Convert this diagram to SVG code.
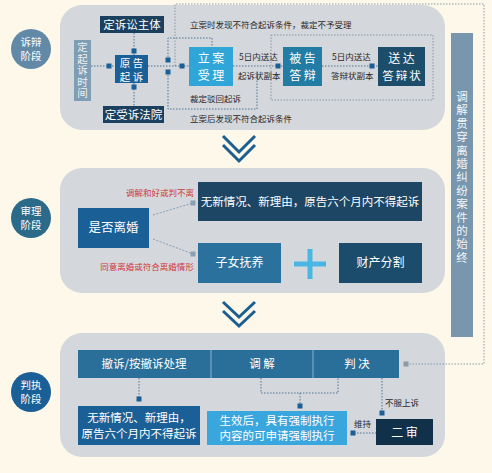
<svg xmlns="http://www.w3.org/2000/svg" width="492" height="473" viewBox="0 0 492 473">
<style>
text{font-family:"Noto Sans CJK SC","Noto Sans",sans-serif;}
.panel{fill:#d4d7dc;}
.w{fill:#ffffff;text-anchor:middle;}
.vt{writing-mode:vertical-rl;text-anchor:middle;}
.lbl{fill:#2a2a2a;font-size:8.5px;}
.red{fill:#d2383c;font-size:8.5px;text-anchor:middle;}
.dot{fill:none;stroke:#4f7594;stroke-width:1;stroke-dasharray:1.5 1.5;}
.dotg{fill:none;stroke:#8a9aa8;stroke-width:1;stroke-dasharray:1.5 1.5;}
.mk{fill:#1a5f96;}
.chev{fill:none;stroke:#1a5f8f;stroke-width:3;}
</style>
<rect width="492" height="473" fill="#fdf8e9"/>

<g id="panels">
<rect class="panel" x="60" y="5" width="385" height="125" rx="22"/>
<rect class="panel" x="60" y="168" width="385" height="125" rx="22"/>
<rect class="panel" x="60" y="333" width="385" height="124" rx="22"/>
</g>

<g id="connectors">
<polyline class="dotg" points="175,66 175,4 484,4 484,364 406,364"/>
<line class="dot" x1="91" y1="66" x2="115" y2="66"/>
<line class="dot" x1="134" y1="33" x2="134" y2="55"/>
<line class="dot" x1="134" y1="83" x2="134" y2="106"/>
<line class="dot" x1="148" y1="66" x2="189" y2="66"/>
<polyline class="dot" points="168,60 168,38 212,38 212,47"/>
<polyline class="dot" points="168,72 168,109 257,109 257,70"/>
<line class="dot" x1="233" y1="66" x2="283" y2="66"/>
<line class="dot" x1="322" y1="66" x2="378" y2="66"/>
<rect x="271" y="35" width="162" height="65" fill="none" stroke="#8d96a0" stroke-width="1" stroke-dasharray="1.5 1.5"/>
<rect class="mk" x="131.5" y="48.5" width="5" height="5"/>
<rect class="mk" x="131.5" y="84.5" width="5" height="5"/>
<rect class="mk" x="106.5" y="63.5" width="5" height="5"/>
<rect class="mk" x="165.5" y="57.5" width="5" height="5"/>
<rect class="mk" x="165.5" y="69.5" width="5" height="5"/>
<rect class="mk" x="179.5" y="63.5" width="5" height="5"/>
<rect class="mk" x="275.5" y="63.5" width="5" height="5"/>
<rect class="mk" x="369.5" y="63.5" width="5" height="5"/>
<line x1="153" y1="215" x2="193" y2="203" stroke="#8aa0b5" stroke-width="1" stroke-dasharray="2 1.5"/>
<line x1="153" y1="239" x2="193" y2="254" stroke="#8aa0b5" stroke-width="1" stroke-dasharray="2 1.5"/>
<rect x="190.5" y="200.5" width="5" height="5" fill="#8aa0b5"/>
<rect x="190.5" y="251.5" width="5" height="5" fill="#8aa0b5"/>
<line class="dot" x1="139" y1="378" x2="139" y2="397"/>
<rect class="mk" x="136.5" y="396.5" width="5" height="5"/>
<polyline class="dot" points="261,378 261,393 338,393 338,378"/>
<line class="dot" x1="300" y1="393" x2="300" y2="404"/>
<rect class="mk" x="297.5" y="403.5" width="5" height="5"/>
<line class="dot" x1="382" y1="378" x2="382" y2="411"/>
<rect class="mk" x="379.5" y="410.5" width="5" height="5"/>
<line class="dot" x1="354" y1="433" x2="376" y2="433"/>
<rect class="mk" x="350.5" y="430.5" width="5" height="5"/>
<rect x="403.5" y="361.5" width="5" height="5" fill="#8a9aa8"/>
</g>

<g id="chevrons">
<polyline class="chev" points="223,136 239,152 255,136"/>
<polyline class="chev" points="223,145 239,161 255,145"/>
<polyline class="chev" points="223,302 239,317 255,302"/>
<polyline class="chev" points="223,311 239,326 255,311"/>
</g>

<g id="stage1">
<circle cx="31" cy="49" r="20" fill="#6289a6"/>
<text class="w" font-size="10.5"><tspan x="31" y="46">诉辩</tspan><tspan x="31" y="60">阶段</tspan></text>
</g>
<g id="stage2">
<circle cx="31" cy="218" r="20" fill="#2c6a8a"/>
<text class="w" font-size="10.5"><tspan x="31" y="215">审理</tspan><tspan x="31" y="229">阶段</tspan></text>
</g>
<g id="stage3">
<circle cx="31" cy="392" r="20" fill="#1a5f96"/>
<text class="w" font-size="10.5"><tspan x="31" y="389">判执</tspan><tspan x="31" y="403">阶段</tspan></text>
</g>

<g id="zhusong">
<rect x="100" y="16" width="64" height="17" fill="#1b3f5e"/>
<text class="w" x="132" y="28.5" font-size="11.5">定诉讼主体</text>
</g>
<g id="fayuan">
<rect x="103" y="106" width="61" height="17" fill="#1b3f5e"/>
<text class="w" x="133.5" y="118.5" font-size="11.5">定受诉法院</text>
</g>
<g id="shijian">
<rect x="74" y="40" width="17" height="61" fill="#7f9db3"/>
<text class="vt" x="82.5" y="71" font-size="10.5" letter-spacing="1" fill="#eef2f6">定起诉时间</text>
</g>
<g id="yuangao">
<rect x="115" y="55" width="33" height="28" fill="#1a6097"/>
<text class="w" font-size="10.5"><tspan x="131.5" y="67">原 告</tspan><tspan x="131.5" y="81">起 诉</tspan></text>
</g>
<g id="lian">
<rect x="189" y="47" width="44" height="39" fill="#2fa5d8"/>
<text class="w" x="211" y="63" font-size="12">立 案</text>
<text class="w" x="211" y="80" font-size="12">受 理</text>
</g>
<g id="beigao">
<rect x="283" y="47" width="39" height="39" fill="#237ca3"/>
<text class="w" x="302.5" y="63" font-size="12">被 告</text>
<text class="w" x="302.5" y="80" font-size="12">答 辩</text>
</g>
<g id="songda">
<rect x="378" y="47" width="47" height="39" fill="#1c4d6a"/>
<text class="w" x="401.5" y="63" font-size="12">送 达</text>
<text class="w" x="402.5" y="80" font-size="11.5" letter-spacing="2">答辩状</text>
</g>
<g id="labels1">
<text class="lbl" x="190" y="28">立案时发现不符合起诉条件，裁定不予受理</text>
<text class="lbl" x="239" y="60">5日内送达</text>
<text class="lbl" x="238" y="79">起诉状副本</text>
<text class="lbl" x="332" y="60">5日内送达</text>
<text class="lbl" x="331" y="79">答辩状副本</text>
<text class="lbl" x="190" y="102">裁定驳回起诉</text>
<text class="lbl" x="190" y="122">立案后发现不符合起诉条件</text>
</g>

<g id="lihun">
<rect x="78" y="208" width="71" height="40" fill="#1a6097"/>
<text class="w" x="113.5" y="232" font-size="12.5">是否离婚</text>
</g>
<g id="wuxin2">
<rect x="198" y="182" width="224" height="39" fill="#1d4664"/>
<text class="w" x="310" y="206" font-size="11.5">无新情况、新理由，原告六个月内不得起诉</text>
</g>
<g id="zinv">
<rect x="198" y="243" width="83" height="40" fill="#2a729d"/>
<text class="w" x="239.5" y="267" font-size="12">子女抚养</text>
</g>
<g id="plus">
<line x1="294" y1="264" x2="326" y2="264" stroke="#4bb6e3" stroke-width="5"/>
<line x1="310" y1="249" x2="310" y2="279" stroke="#4bb6e3" stroke-width="5"/>
</g>
<g id="caichan">
<rect x="339" y="243" width="83" height="40" fill="#1c4c6b"/>
<text class="w" x="380.5" y="267" font-size="12">财产分割</text>
</g>
<g id="labels2">
<text class="red" x="160" y="196">调解和好或判不离</text>
<text class="red" x="147" y="270">同意离婚或符合离婚情形</text>
</g>

<g id="header3">
<rect x="78" y="350" width="321" height="28" fill="#2a6f99"/>
<line x1="211" y1="350" x2="211" y2="378" stroke="#a9c3d6" stroke-width="0.8"/>
<line x1="313" y1="350" x2="313" y2="378" stroke="#a9c3d6" stroke-width="0.8"/>
<text class="w" x="144" y="368" font-size="11.5">撤诉/按撤诉处理</text>
<text class="w" x="262" y="368" font-size="11.5">调 解</text>
<text class="w" x="357" y="368" font-size="11.5">判 决</text>
</g>
<g id="wuxin3">
<rect x="78" y="406" width="122" height="39" fill="#1a5f96"/>
<text class="w" x="139" y="422" font-size="11.5">无新情况、新理由，</text>
<text class="w" x="139" y="438" font-size="11.5">原告六个月内不得起诉</text>
</g>
<g id="shengxiao">
<rect x="207" y="411" width="140" height="34" fill="#3aa6de"/>
<text class="w" x="277" y="425" font-size="11.5">生效后，具有强制执行</text>
<text class="w" x="277" y="440" font-size="11.5">内容的可申请强制执行</text>
</g>
<g id="ershen">
<rect x="376" y="419" width="57" height="26" fill="#11304a"/>
<text class="w" x="404.5" y="437" font-size="12">二 审</text>
</g>
<g id="labels3">
<text class="lbl" x="385" y="406">不服上诉</text>
<text class="lbl" x="354" y="427">维持</text>
</g>

<g id="sidebar">
<rect x="451" y="33" width="22" height="304" fill="#7897ae"/>
<text class="vt" x="462" y="178" font-size="11.5" letter-spacing="1.9" fill="#f2f5f8">调解贯穿离婚纠纷案件的始终</text>
</g>
</svg>
